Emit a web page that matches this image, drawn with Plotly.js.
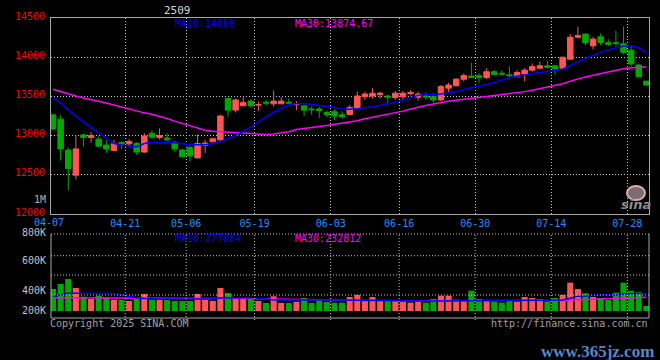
<!DOCTYPE html>
<html>
<head>
<meta charset="utf-8">
<script src="https://cdn.plot.ly/plotly-3.0.1.min.js"></script>
<style>
html,body{margin:0;padding:0;background:#000;}
#chart{width:660px;height:360px;}
</style>
</head>
<body>
<div id="chart"></div>
<script>
// ---------------- data ----------------
const contract = '2509';
const dates = [
 '04-07','04-08','04-09','04-10','04-11','04-14','04-15','04-16','04-17','04-18',
 '04-21','04-22','04-23','04-24','04-25','04-28','04-29','04-30',
 '05-06','05-07','05-08','05-09','05-12','05-13','05-14','05-15','05-16',
 '05-19','05-20','05-21','05-22','05-23','05-26','05-27','05-28','05-29','05-30',
 '06-03','06-04','06-05','06-06','06-09','06-10','06-11','06-12','06-13',
 '06-16','06-17','06-18','06-19','06-20','06-23','06-24','06-25','06-26','06-27',
 '06-30','07-01','07-02','07-03','07-04','07-07','07-08','07-09','07-10','07-11',
 '07-14','07-15','07-16','07-17','07-18','07-21','07-22','07-23','07-24','07-25',
 '07-28','07-29','07-30'
];
const openPrice = [
 13265,13210,12815,12495,13010,12975,12955,12880,12810,12910,
 12895,12900,12790,13030,12975,12970,12915,12815,12850,12715,
 12875,12920,12945,13475,13325,13380,13440,13390,13425,13405,
 13405,13425,13400,13380,13340,13340,13295,13305,13265,13270,
 13350,13495,13505,13525,13505,13485,13495,13535,13490,13505,
 13495,13455,13605,13635,13720,13760,13765,13740,13815,13795,
 13775,13750,13785,13835,13860,13890,13890,13860,13975,14255,
 14295,14145,14260,14185,14185,14170,14090,13900,13695
];
const highPrice = [
 13265,13265,12850,13000,13020,13045,12990,12945,12945,12925,
 12955,12920,13030,13065,13090,13030,12930,12835,12865,13015,
 12945,12970,13265,13475,13475,13495,13465,13435,13455,13575,
 13490,13475,13440,13380,13370,13370,13320,13335,13310,13390,
 13560,13560,13605,13560,13520,13570,13570,13580,13560,13550,
 13540,13645,13675,13730,13795,13930,13795,13860,13835,13835,
 13880,13835,13860,13920,13945,13955,13900,14005,14295,14390,
 14295,14260,14305,14230,14340,14390,14155,13920,13695
];
const lowPrice = [
 13070,12680,12305,12440,12860,12910,12860,12780,12810,12830,
 12865,12755,12780,12955,12950,12935,12795,12725,12670,12715,
 12780,12920,12935,13240,13295,13380,13355,13315,13385,13370,
 13405,13410,13325,13250,13265,13225,13235,13200,13215,13265,
 13350,13455,13475,13470,13390,13455,13455,13520,13445,13455,
 13420,13440,13550,13635,13690,13730,13675,13720,13775,13765,
 13730,13745,13690,13815,13850,13860,13775,13845,13965,14240,
 14155,14100,14155,14145,14135,14035,13880,13745,13635
];
const closePrice = [
 13085,12830,12580,12830,12975,13000,12865,12830,12895,12895,
 12925,12790,12995,12980,13000,12945,12830,12730,12740,12900,
 12905,12960,13250,13325,13455,13420,13380,13395,13415,13440,
 13440,13415,13405,13325,13330,13320,13265,13250,13240,13360,
 13505,13530,13540,13540,13490,13540,13540,13550,13530,13495,
 13455,13625,13645,13720,13765,13740,13740,13815,13780,13785,
 13765,13805,13835,13880,13890,13870,13850,14000,14255,14275,
 14185,14230,14190,14165,14175,14060,13915,13750,13645
];
const priceMa10 = [
 13495,13413,13326,13249,13176,13105,13033,12960,12899,12879,
 12863,12859,12900,12915,12918,12912,12909,12899,12883,12884,
 12882,12899,12924,12959,13004,13052,13107,13173,13241,13295,
 13348,13394,13409,13409,13397,13387,13375,13361,13343,13335,
 13342,13353,13367,13388,13404,13426,13454,13484,13513,13526,
 13521,13531,13541,13559,13587,13607,13627,13653,13678,13707,
 13738,13756,13775,13791,13804,13817,13828,13846,13894,13943,
 13985,14027,14063,14091,14120,14139,14145,14120,14059
];
const priceMa30 = [
 13590,13560,13530,13505,13480,13463,13438,13415,13390,13365,
 13338,13310,13290,13272,13248,13218,13185,13155,13118,13088,
 13068,13057,13050,13045,13040,13036,13025,13018,13015,13019,
 13031,13050,13078,13094,13106,13117,13130,13144,13156,13171,
 13190,13215,13233,13252,13268,13288,13312,13339,13365,13385,
 13404,13426,13439,13452,13462,13473,13485,13499,13511,13523,
 13534,13547,13561,13579,13598,13616,13636,13661,13695,13725,
 13748,13771,13793,13814,13837,13854,13866,13873,13875
];
const volume = [
 352000,432000,512000,368000,229000,192000,245000,219000,176000,176000,
 160000,197000,272000,181000,181000,176000,160000,160000,160000,272000,
 181000,160000,368000,288000,192000,192000,192000,160000,128000,235000,
 128000,128000,144000,208000,128000,176000,144000,133000,133000,224000,
 256000,165000,224000,165000,165000,165000,149000,133000,149000,133000,
 192000,245000,245000,181000,176000,325000,192000,176000,149000,133000,
 165000,149000,224000,208000,192000,149000,208000,256000,453000,352000,
 283000,224000,208000,176000,293000,453000,325000,304000,80000
];
const volumeMa10 = [
 232000,256000,283000,283000,283000,283000,283000,283000,282000,256000,
 232000,213000,200000,193000,192000,192000,192000,192000,192000,192000,
 192000,192000,208000,213000,213000,213000,212000,208000,192000,178000,
 176000,176000,176000,176000,176000,176000,176000,175000,174000,165000,
 160000,160000,160000,160000,160000,160000,160000,160000,160000,160000,
 161000,162000,165000,169000,171000,172000,172000,171000,170000,170000,
 171000,171000,172000,172000,172000,172000,173000,176000,203000,238000,
 242000,254000,256000,256000,258000,272000,283000,283000,272000
];
const volumeMa30 = [
 213000,213000,214000,214000,213000,213000,212000,212000,211000,210000,
 210000,209000,208000,206000,205000,205000,205000,204000,204000,204000,
 204000,203000,202000,201000,200000,199000,198000,196000,194000,192000,
 190000,188000,186000,184000,182000,180000,178000,176000,174000,172000,
 170000,168000,167000,166000,165000,165000,165000,165000,165000,165000,
 165000,165000,165000,165000,165000,165000,165000,165000,165000,165000,
 165000,165000,165000,165000,165000,165000,166000,168000,178000,184000,
 188000,191000,194000,197000,201000,206000,210000,215000,219000
];
const tickDates = ['04-07','04-21','05-06','05-19','06-03','06-16','06-30','07-14','07-28'];
const priceTicks = [12000,12500,13000,13500,14000,14500];
const volumeTickLabels = ['800K','600K','400K','200K'];
const priceMaLabels = ['MA10:14060','MA30:13874.67'];
const volumeMaLabels = ['MA10:277884','MA30:232812'];
const unitLabel = '1M';
const copyrightText = 'Copyright 2025 SINA.COM';
const urlText = 'http://finance.sina.com.cn';
const watermarkText = 'www.365jz.com';

// ---------------- style / geometry ----------------
const RED = '#ff5555', GREEN = '#00aa00', BLUE = '#0000ff', MAGENTA = '#ff00ff';
const GRID = '#c4c4c4', BORDER = '#a8a8a8', MONO = 'DejaVu Sans Mono';
const W = 660, H = 360, L = 51, R = 11, T = 18, B = 42;
const PW = W - L - R, PH = H - T - B;
const px = v => (v - L) / PW;          // pixel -> paper x
const py = v => (T + PH - v) / PH;     // pixel -> paper y
const DOT = '1px,2px';

const idx = dates.map((d, i) => i);
const tickIdx = tickDates.map(d => dates.indexOf(d) - 0.5);
const shownTicks = tickIdx.filter(v => v > -0.27);
const shownText = tickDates.filter((d, k) => tickIdx[k] > -0.27);
const volColors = idx.map(i => closePrice[i] >= openPrice[i] ? RED : GREEN);

const traces = [
  {type:'candlestick', x: idx, open: openPrice, high: highPrice, low: lowPrice, close: closePrice,
   xaxis:'x', yaxis:'y', whiskerwidth: 0,
   increasing:{line:{color:RED, width:1}, fillcolor:RED},
   decreasing:{line:{color:GREEN, width:1}, fillcolor:GREEN},
   hoverinfo:'skip', showlegend:false},
  {type:'scatter', mode:'lines', x: idx, y: priceMa30, xaxis:'x', yaxis:'y',
   line:{color:MAGENTA, width:1.5}, hoverinfo:'skip', showlegend:false},
  {type:'scatter', mode:'lines', x: idx, y: priceMa10, xaxis:'x', yaxis:'y',
   line:{color:BLUE, width:1.5}, hoverinfo:'skip', showlegend:false},
  {type:'bar', x: idx, y: volume, xaxis:'x2', yaxis:'y2',
   marker:{color: volColors, line:{width:0}}, hoverinfo:'skip', showlegend:false},
  {type:'scatter', mode:'lines', x: idx, y: volumeMa30, xaxis:'x2', yaxis:'y2',
   line:{color:MAGENTA, width:1.5}, hoverinfo:'skip', showlegend:false},
  {type:'scatter', mode:'lines', x: idx, y: volumeMa10, xaxis:'x2', yaxis:'y2',
   line:{color:BLUE, width:1.5}, hoverinfo:'skip', showlegend:false}
];

function ann(text, x, y, xanchor, color, size, family) {
  return {text: text, xref:'paper', yref:'paper', x: px(x), y: py(y), xanchor: xanchor,
          yanchor:'middle', showarrow:false, borderpad:0,
          font:{family: family || MONO, size: size || 10, color: color}};
}

const volTickY = [232, 260, 290.5, 310.5];
const annotations = [
  ann(contract, 177, 10, 'center', '#d8d8d8', 11),
  ann(priceMaLabels[0], 174, 23.5, 'left', BLUE),
  ann(priceMaLabels[1], 294, 23.5, 'left', MAGENTA),
  ann(volumeMaLabels[0], 174, 238.5, 'left', BLUE),
  ann(volumeMaLabels[1], 294, 238.5, 'left', MAGENTA),
  ann(unitLabel, 47, 199.5, 'right', '#b0b0b0'),
  ann(tickDates[0], 49.2, 222.5, 'center', '#1e90ff'),
  ann(copyrightText, 49, 323.5, 'left', '#a0a0a0'),
  ann(urlText, 649, 323.5, 'right', '#a0a0a0'),
  ann('<b>' + watermarkText + '</b>', 655, 351, 'right', '#5a86c8', 17, 'Liberation Serif'),
  ann('<b><i>sina</i></b>', 636, 204, 'center', '#8c8c8c', 13, 'DejaVu Sans')
];
volumeTickLabels.forEach((t, k) => annotations.push(ann(t, 47, volTickY[k], 'right', '#c0c0c0')));

const shapes = [
  // volume panel frame
  {type:'line', xref:'paper', yref:'paper', x0:0, x1:0, y0:py(318), y1:py(234), line:{color:BORDER, width:1}},
  {type:'line', xref:'paper', yref:'paper', x0:1, x1:1, y0:py(318), y1:py(234), line:{color:BORDER, width:1}},
  {type:'line', xref:'paper', yref:'paper', x0:0, x1:1, y0:py(318), y1:py(318), line:{color:BORDER, width:1}},
  {type:'line', xref:'paper', yref:'paper', x0:0, x1:1, y0:py(234), y1:py(234), line:{color:GRID, width:1, dash:DOT}},
  // sina eye logo
  {type:'circle', xref:'paper', yref:'paper', x0:px(627), x1:px(645), y0:py(200), y1:py(186),
   line:{color:'#e6a6ae', width:2}, fillcolor:'rgba(240,220,222,0.5)'}
];
[255.7, 275, 295].forEach(v => shapes.push(
  {type:'line', xref:'paper', yref:'paper', x0:0, x1:1, y0:py(v), y1:py(v), line:{color:GRID, width:1, dash:DOT}}));
shownTicks.forEach(v => shapes.push(
  {type:'line', xref:'x', yref:'paper', x0:v, x1:v, y0:py(320), y1:py(234), line:{color:GRID, width:1, dash:DOT}}));

const layout = {
  width: W, height: H,
  margin:{l:L, r:R, t:T, b:B, pad:0},
  paper_bgcolor:'#000', plot_bgcolor:'#000',
  showlegend:false, hovermode:false,
  boxgap:0.28, boxgroupgap:0, bargap:0.2,
  font:{family:MONO, size:10, color:'#c0c0c0'},
  xaxis:{domain:[0,1], range:[-0.27, 78.35], anchor:'y',
         tickmode:'array', tickvals: shownTicks, ticktext: shownText,
         showgrid:true, gridcolor:GRID, griddash:DOT, gridwidth:1,
         zeroline:false, showline:true, linecolor:BORDER, linewidth:1, mirror:true,
         ticks:'', tickfont:{family:MONO, size:10, color:'#1e90ff'},
         rangeslider:{visible:false}, fixedrange:true},
  yaxis:{domain:[py(214), 1], range:[12000, 14500], anchor:'x',
         tickmode:'array', tickvals: priceTicks, ticktext: priceTicks.map(String),
         showgrid:true, gridcolor:GRID, griddash:DOT, gridwidth:1,
         zeroline:false, showline:true, linecolor:BORDER, linewidth:1, mirror:true,
         ticks:'', ticklabelstandoff:3, ticklabelshift:-2,
         tickfont:{family:MONO, size:10, color:'#ff0000'}, fixedrange:true},
  xaxis2:{domain:[0,1], matches:'x', anchor:'y2', showticklabels:false, showgrid:false,
          zeroline:false, showline:false, ticks:'', fixedrange:true},
  yaxis2:{domain:[py(311), py(234)], range:[0, 1232000], anchor:'x2',
          showticklabels:false, showgrid:false, zeroline:false, showline:false, ticks:'', fixedrange:true},
  annotations: annotations,
  shapes: shapes
};

Plotly.newPlot('chart', traces, layout, {staticPlot:true, displayModeBar:false});
</script>
</body>
</html>
